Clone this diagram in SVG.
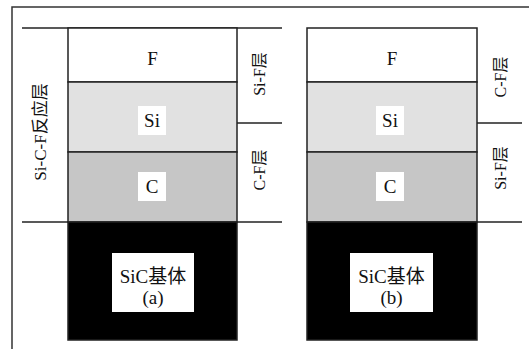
<svg xmlns="http://www.w3.org/2000/svg" width="529" height="349" viewBox="0 0 529 349">
<style>
.ln{stroke:#222;stroke-width:1.5;fill:none}
.cell{stroke:#222;stroke-width:1.5}
.t{font-family:"Liberation Serif","Noto Sans CJK SC",serif;font-size:19px;fill:#111;text-anchor:middle}
.s{font-family:"Liberation Serif","Noto Sans CJK SC",serif;font-size:16px;fill:#111;text-anchor:middle}
.box{fill:#fff}
</style>
<rect width="529" height="349" fill="#fff"/>
<rect x="12" y="7" width="540" height="360" fill="none" stroke="#333" stroke-width="1.5"/>
<g id="connectors">
<line class="ln" x1="22" y1="28" x2="282" y2="28"/>
<line class="ln" x1="22" y1="222" x2="282" y2="222"/>
<line class="ln" x1="237" y1="123" x2="282" y2="123"/>
<line class="ln" x1="477" y1="123" x2="522" y2="123"/>
<line class="ln" x1="477" y1="222" x2="522" y2="222"/>
</g>
<g id="stack-a">
<rect class="cell" x="68" y="28" width="169" height="54" fill="#fff"/>
<rect class="cell" x="68" y="82" width="169" height="70" fill="#e1e1e1"/>
<rect class="cell" x="68" y="152" width="169" height="70" fill="#c6c6c6"/>
<rect class="cell" x="68" y="222" width="169" height="118" fill="#000"/>
<text class="t" x="152.5" y="65">F</text>
<rect class="box" x="138" y="106" width="28" height="29"/>
<text class="t" x="152" y="127">Si</text>
<rect class="box" x="138" y="172" width="28" height="29"/>
<text class="t" x="152" y="193">C</text>
<rect class="box" x="112" y="253" width="82" height="59"/>
<text class="t" x="153" y="283">SiC基体</text>
<text class="t" x="153" y="304">(a)</text>
</g>
<g id="stack-b">
<rect class="cell" x="307" y="28" width="170" height="54" fill="#fff"/>
<rect class="cell" x="307" y="82" width="170" height="70" fill="#e1e1e1"/>
<rect class="cell" x="307" y="152" width="170" height="70" fill="#c6c6c6"/>
<rect class="cell" x="307" y="222" width="170" height="118" fill="#000"/>
<text class="t" x="392" y="65">F</text>
<rect class="box" x="376" y="106" width="28" height="29"/>
<text class="t" x="390" y="127">Si</text>
<rect class="box" x="376" y="172" width="28" height="29"/>
<text class="t" x="390" y="193">C</text>
<rect class="box" x="350" y="253" width="83" height="59"/>
<text class="t" x="391.5" y="283">SiC基体</text>
<text class="t" x="391.5" y="304">(b)</text>
</g>
<g id="label-sicf">
<text class="t" transform="translate(46,132) rotate(-90)" style="font-size:17px">Si-C-F反应层</text>
</g>
<g id="label-a-sif">
<text class="s" transform="translate(265,74) rotate(-90)">Si-F层</text>
</g>
<g id="label-a-cf">
<text class="s" transform="translate(265,170) rotate(-90)">C-F层</text>
</g>
<g id="label-b-cf">
<text class="s" transform="translate(506,77) rotate(-90)">C-F层</text>
</g>
<g id="label-b-sif">
<text class="s" transform="translate(506,168) rotate(-90)">Si-F层</text>
</g>
</svg>
